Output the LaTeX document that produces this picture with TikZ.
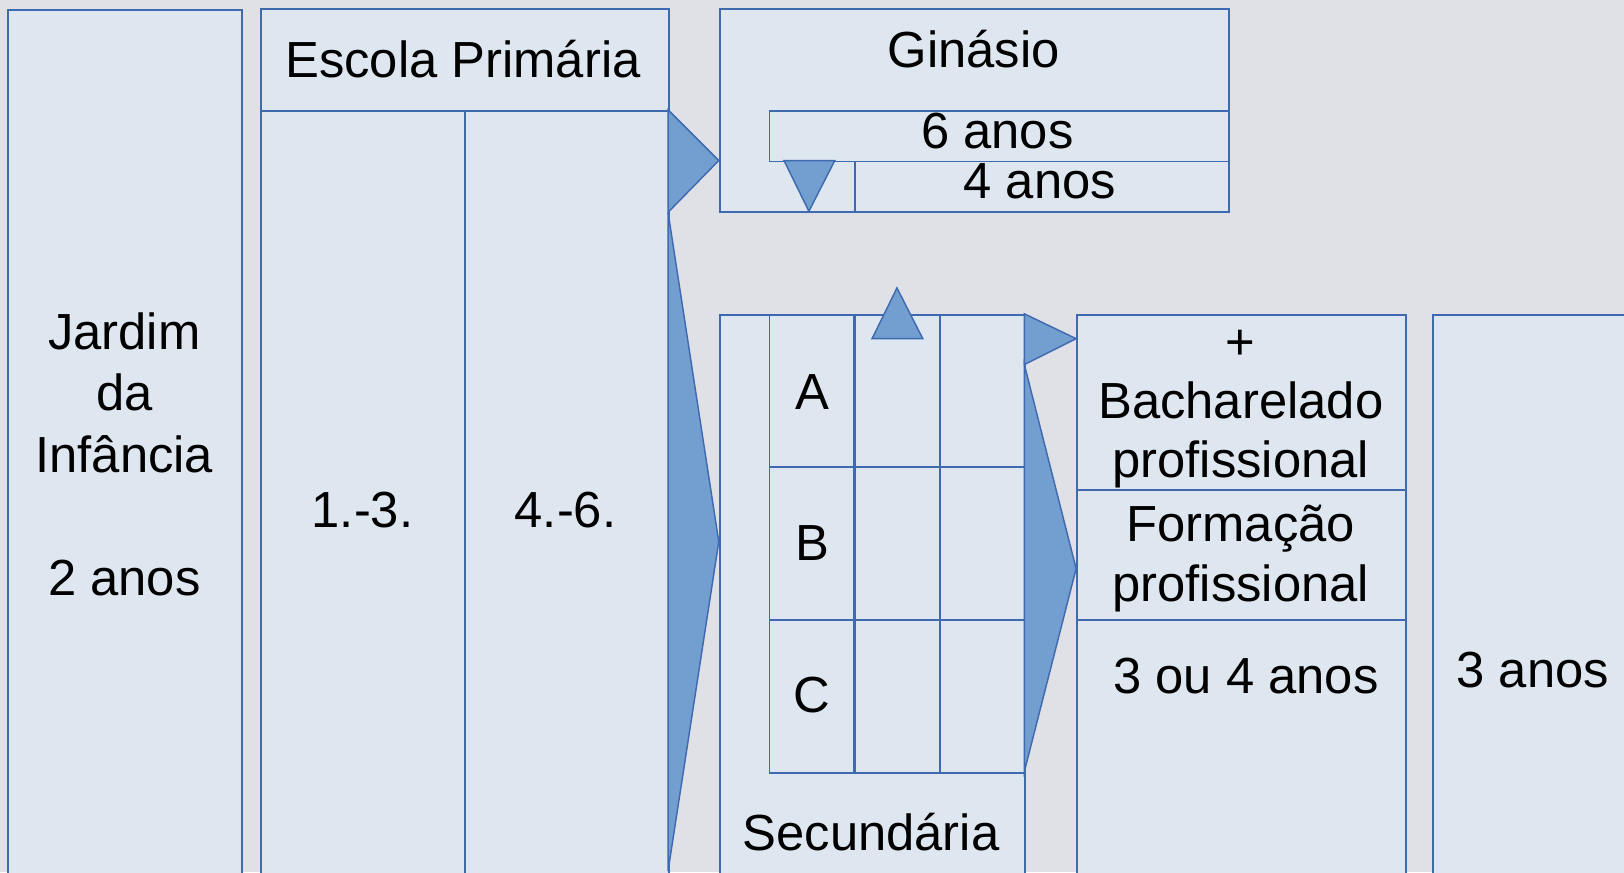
\documentclass[tikz,border=0pt]{standalone}
\usepackage{fontspec}
\setmainfont{Liberation Sans}
\definecolor{bg}{RGB}{224,225,230}
\definecolor{boxfill}{RGB}{222,230,239}
\definecolor{boxline}{RGB}{63,106,176}
\definecolor{arrfill}{RGB}{114,159,207}
\begin{document}
\begin{tikzpicture}[x=1pt,y=-1pt,
  box/.style={draw=boxline, fill=boxfill, line width=1.8pt, inner sep=0pt, anchor=north west},
  tri/.style={draw=boxline, fill=arrfill, line width=1.4pt, line join=miter},
  lbl/.style={font=\fontsize{49}{58}\selectfont, align=center, inner sep=0pt, anchor=base}]
\useasboundingbox (0,0) rectangle (1568,842);
\clip (0,0) rectangle (1568,842);
\fill[bg] (0,0) rectangle (1568,842);
% Jardim
\node[box, minimum width=226pt, minimum height=900pt] (jardim) at (7,9) {};
% Escola
\node[box, minimum width=394pt, minimum height=98pt] (eschead) at (251,8) {};
\node[box, minimum width=197pt, minimum height=800pt] (esc1) at (251,106) {};
\node[box, minimum width=197pt, minimum height=800pt] (esc2) at (448,106) {};
% Ginasio
\node[box, minimum width=492pt, minimum height=196pt] (gin) at (694,8) {};
\node[box, minimum width=444pt, minimum height=49pt] (g6) at (742,106) {};
\node[box, minimum width=361pt, minimum height=49pt] (g4) at (825,155) {};
% Secundaria
\node[box, minimum width=295pt, minimum height=600pt] (sec) at (694,303) {};
\foreach \c/\x in {1/742,2/825,3/907}{
  \foreach \r/\y in {1/303,2/450,3/598}{
    \node[box, minimum width=82pt, minimum height=147.5pt] (c\c\r) at (\x,\y) {};
  }}
% Bacharelado column
\node[box, minimum width=318pt, minimum height=169pt] (bach) at (1039,303) {};
\node[box, minimum width=318pt, minimum height=126pt] (form) at (1039,472) {};
\node[box, minimum width=318pt, minimum height=300pt] (anos34) at (1039,598) {};
% last column
\node[box, minimum width=260pt, minimum height=600pt] (last) at (1383,303) {};
% triangles
\coordinate (t1a) at (645,106); \coordinate (t1b) at (694,155); \coordinate (t1c) at (645,205);
\coordinate (t2b) at (694,523); \coordinate (t2c) at (645,841);
\coordinate (t3a) at (989,303); \coordinate (t3b) at (1039,327); \coordinate (t3c) at (989,352);
\coordinate (t4b) at (1039,549); \coordinate (t4c) at (989,745);
\coordinate (d1) at (757,155); \coordinate (d2) at (806,155); \coordinate (d3) at (781,204);
\coordinate (u1) at (842,327); \coordinate (u2) at (891,327); \coordinate (u3) at (866,278);
\draw[tri] (t1a) -- (t1b) -- (t1c) -- cycle;
\draw[tri] (t1c) -- (t2b) -- (t2c) -- cycle;
\draw[tri] (t3a) -- (t3b) -- (t3c) -- cycle;
\draw[tri] (t3c) -- (t4b) -- (t4c) -- cycle;
\draw[tri] (d1) -- (d2) -- (d3) -- cycle;
\draw[tri] (u1) -- (u2) -- (u3) -- cycle;
% labels
\node[lbl, font=\fontsize{49}{59.5}\selectfont] (tjar) at (120,575) {Jardim\\da\\Infância\\\\2 anos};
\node[lbl] (tesc) at (447,75) {Escola Primária};
\node[lbl] (t13) at (350,509) {1.-3.};
\node[lbl] (t46) at (546,509) {4.-6.};
\node[lbl] (tgin) at (940,65) {Ginásio};
\node[lbl] (t6) at (963,143) {6 anos};
\node[lbl] (t4) at (1004,192) {4 anos};
\node[lbl] (tA) at (784,395) {A};
\node[lbl] (tB) at (784,541) {B};
\node[lbl] (tC) at (784,688) {C};
\node[lbl] (tsec) at (841,821) {Secundária};
\node[lbl, font=\fontsize{49}{57}\selectfont] (tbach) at (1198,461) {+\\Bacharelado\\profissional};
\node[lbl] (tform) at (1198,581) {Formação\\profissional};
\node[lbl] (t34) at (1203,670) {3 ou 4 anos};
\node[lbl] (t3) at (1480,664) {3 anos};
\end{tikzpicture}
\end{document}
